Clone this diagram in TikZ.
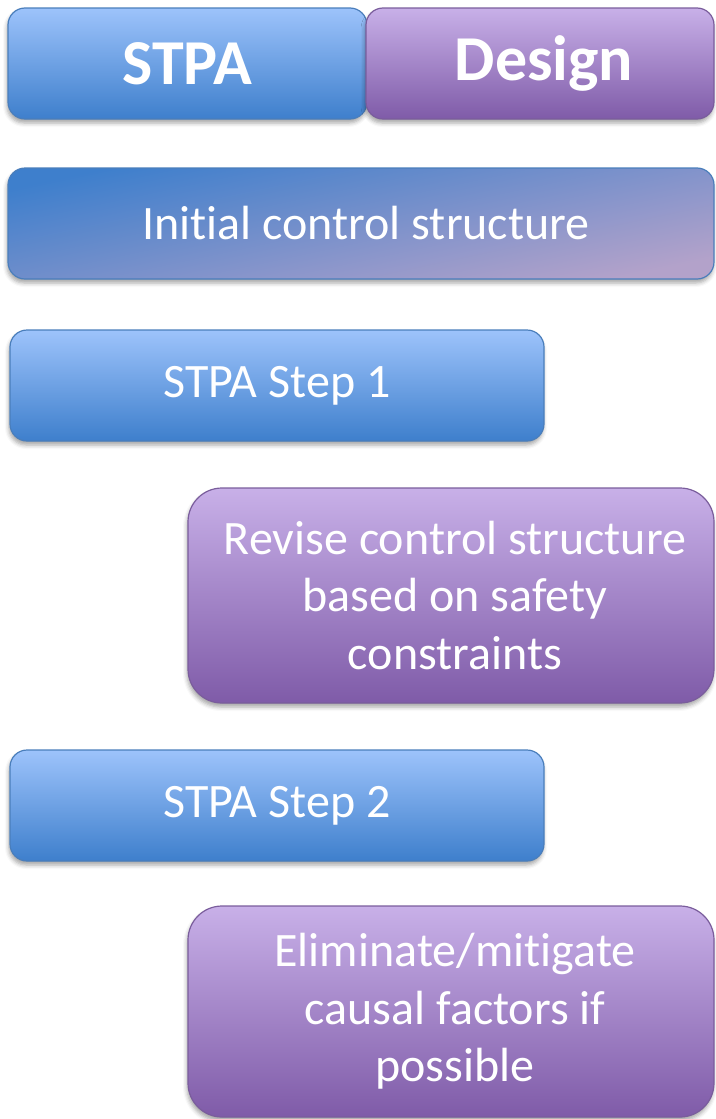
\documentclass[tikz,border=0pt]{standalone}
\usepackage{fontspec}
\setmainfont{Carlito}[Ligatures={NoCommon,NoContextual,NoRare}]
\usetikzlibrary{shadows.blur}

% keeps "t" and "i" as separate glyphs
\newcommand{\tI}{t\kern0pt i}

\definecolor{bluetop}{HTML}{9DC3FB}
\definecolor{bluebot}{HTML}{3E7FCC}
\definecolor{blueline}{HTML}{4A7EBB}
\definecolor{purptop}{HTML}{C8B0E8}
\definecolor{purpbot}{HTML}{7F5BA8}
\definecolor{purpline}{HTML}{7A5D9C}
\definecolor{lavender}{HTML}{B3A2CA}

\tikzset{
  boxbase/.style={rectangle, draw, line width=1.2pt, text=white, align=center,
    inner sep=0pt,
    blur shadow={shadow xshift=-1pt, shadow yshift=-4pt, shadow blur radius=4pt, shadow opacity=35}},
  bluebox/.style={boxbase, draw=blueline, top color=bluetop, bottom color=bluebot},
  purpbox/.style={boxbase, draw=purpline, top color=purptop, bottom color=purpbot},
  headfont/.style={font=\fontsize{64}{72}\selectfont\bfseries},
  bodyfont/.style={font=\fontsize{48}{57.6}\selectfont},
}

\begin{document}
\begin{tikzpicture}[x=1pt, y=-1pt]
  \useasboundingbox (0,0) rectangle (715,1119);

  % column headings
  \node[bluebox, headfont, rounded corners=17pt, minimum width=359pt, minimum height=111pt]
    (stpa) at (187.5,63.5) {STPA};
  \node[purpbox, headfont, rounded corners=17pt, minimum width=348pt, minimum height=111pt]
    (design) at (540,63.5) {\hspace*{8pt}Design};

  % shared starting point, shaded from blue (top left) to lavender (bottom right)
  \node[boxbase, draw=blueline, top color=bluebot, bottom color=lavender, shading angle=12,
        bodyfont, rounded corners=17pt, minimum width=706pt, minimum height=111pt]
    (init) at (361,223.5) {\hspace*{10pt}Ini\tI al control structure};

  % analysis steps and design responses
  \node[bluebox, bodyfont, rounded corners=17pt, minimum width=534pt, minimum height=111pt]
    (step1) at (277,385.5) {STPA Step 1};
  \node[purpbox, bodyfont, rounded corners=34pt, minimum width=526pt, minimum height=215pt]
    (revise) at (451,595.5) {\hspace*{8pt}Revise control structure\\\hspace*{8pt}based on safety\\\hspace*{8pt}constraints};
  \node[bluebox, bodyfont, rounded corners=17pt, minimum width=534pt, minimum height=111pt]
    (step2) at (277,805.5) {STPA Step 2};
  \node[purpbox, bodyfont, rounded corners=34pt, minimum width=526pt, minimum height=211pt]
    (elim) at (451,1011.5) {\hspace*{8pt}Elimina\kern0pt te/mi\tI gate\\\hspace*{8pt}causal factors if\\\hspace*{8pt}possible};
\end{tikzpicture}
\end{document}
